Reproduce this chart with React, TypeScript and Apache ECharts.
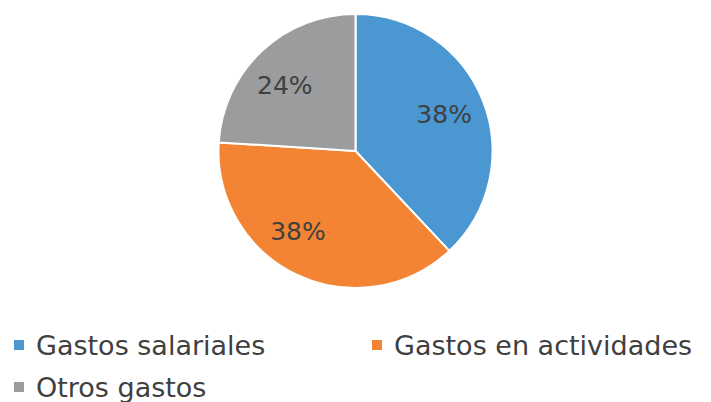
import React, { useEffect, useRef } from "react";
import * as echarts from "echarts";

const categories = ["Gastos salariales", "Gastos en actividades", "Otros gastos"];
const values = [38, 38, 24];
const colors = ["#4a97d2", "#f38433", "#9a9c9d"];
const labelOffsets = [[-2, -1], [-16, -8], [-4, 6]];

export default function App() {
  const ref = useRef<HTMLDivElement>(null);
  useEffect(() => {
    if (!ref.current) return;
    const chart = echarts.init(ref.current, undefined, { renderer: "svg" });
    const data = categories.map((name, i) => ({ name, value: values[i], itemStyle: { color: colors[i] } }));
    const font = "DejaVu Sans";
    chart.setOption({
      animation: false,
      backgroundColor: "#ffffff",
      legend: {
        data: categories,
        left: 12,
        top: 324,
        width: 740,
        padding: 0,
        itemGap: 0,
        icon: "rect",
        itemWidth: 12,
        itemHeight: 12,
        textStyle: {
          fontFamily: font,
          fontSize: 27,
          color: "#404040",
          width: 334,
          lineHeight: 42,
          padding: [0, 0, 0, 6],
        },
      },
      series: [
        {
          type: "pie",
          center: [355.5, 151],
          radius: [0, 137],
          startAngle: 90,
          clockwise: true,
          data,
          label: { show: false },
          labelLine: { show: false },
          itemStyle: { borderColor: "#ffffff", borderWidth: 2 },
          silent: true,
        },
        {
          type: "pie",
          center: [355.5, 151],
          radius: [52, 137],
          startAngle: 90,
          clockwise: true,
          data: data.map((d, i) => ({
            ...d,
            itemStyle: { color: "rgba(0,0,0,0)" },
            label: { offset: labelOffsets[i] },
          })),
          label: {
            show: true,
            position: "inside",
            formatter: "{d}%",
            fontFamily: font,
            fontSize: 25,
            color: "#404040",
          },
          labelLine: { show: false },
          silent: true,
        },
      ],
    });
    return () => chart.dispose();
  }, []);
  return <div ref={ref} style={{ position: "absolute", left: 0, top: 0, width: 711, height: 402 }} />;
}
